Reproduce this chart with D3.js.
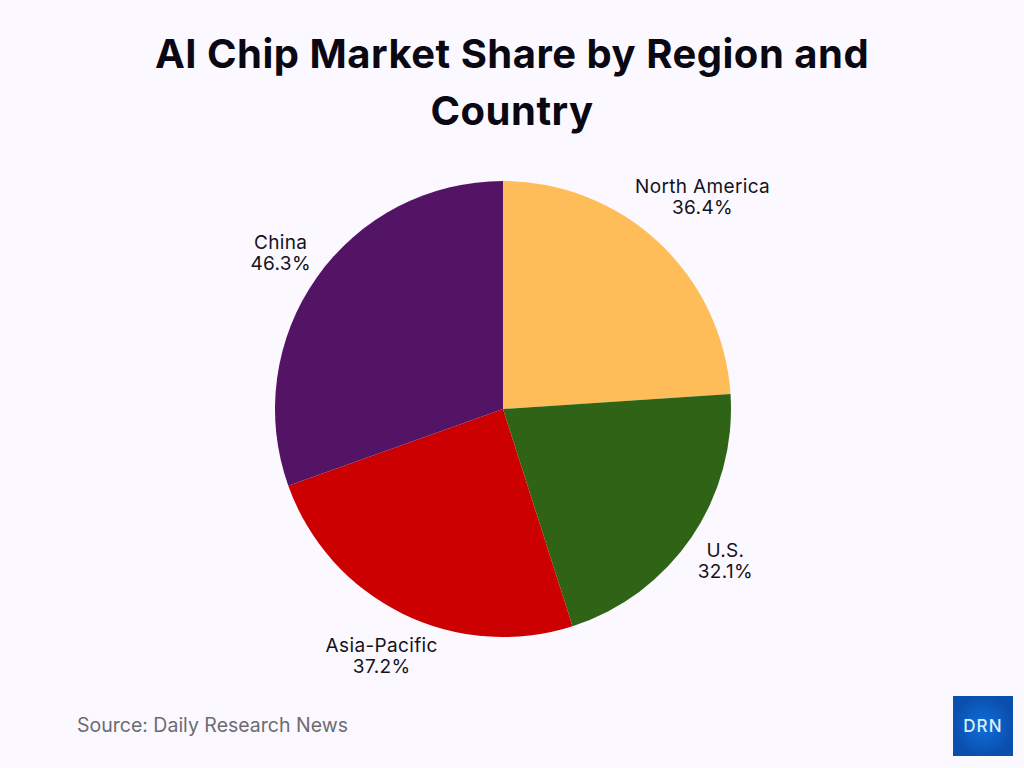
<!DOCTYPE html>
<html>
<head>
<meta charset="utf-8">
<script src="https://cdn.jsdelivr.net/npm/d3@7"></script>
<style>
  html, body { margin: 0; padding: 0; background: #fbf9ff; }
  svg { display: block; }
  text { font-family: Inter, "Noto Sans", sans-serif; }
</style>
</head>
<body>
<svg id="chart" width="1024" height="768"></svg>
<script>
const categories = ['North America', 'U.S.', 'Asia-Pacific', 'China'];
const shares = [36.4, 32.1, 37.2, 46.3];
const sliceColors = ['#ffbd59', '#2f6417', '#cc0000', '#541466'];
const titleLines = ['AI Chip Market Share by Region and', 'Country'];
const sourceNote = 'Source: Daily Research News';

const svg = d3.select('#chart');
const cx = 503, cy = 409, radius = 228;

// title
svg.selectAll('.title')
    .data(titleLines)
    .join('text')
    .attr('class', 'title')
    .attr('x', 512)
    .attr('y', (d, i) => 68 + i * 57)
    .attr('text-anchor', 'middle')
    .attr('font-size', 40)
    .attr('font-weight', 700)
    .attr('letter-spacing', 0.5)
    .attr('fill', '#0a0812')
    .text(d => d);

const rows = categories.map((c, i) => ({name: c, value: shares[i], color: sliceColors[i]}));
const pie = d3.pie().sort(null).value(d => d.value);
const arc = d3.arc().innerRadius(0).outerRadius(radius);

// label distance from the centre differs a bit per slice
const labelRadius = {'North America': 292, 'U.S.': 269, 'Asia-Pacific': 274, 'China': 272};
const labelPos = d => {
    const r = labelRadius[d.data.name];
    return d3.arc().innerRadius(r).outerRadius(r).centroid(d);
};

const g = svg.append('g').attr('transform', `translate(${cx},${cy})`);
const arcs = pie(rows);

g.selectAll('path')
    .data(arcs)
    .join('path')
    .attr('d', arc)
    .attr('fill', d => d.data.color);

const labels = g.selectAll('.label')
    .data(arcs)
    .join('text')
    .attr('class', 'label')
    .attr('text-anchor', 'middle')
    .attr('font-size', 19)
    .attr('letter-spacing', 0.35)
    .attr('fill', '#14121c')
    .attr('transform', d => `translate(${labelPos(d)})`);

labels.append('tspan')
    .attr('x', 0)
    .attr('dy', '-0.15em')
    .text(d => d.data.name);

labels.append('tspan')
    .attr('x', 0)
    .attr('dy', '1.1em')
    .text(d => d.data.value + '%');

svg.append('text')
    .attr('x', 77)
    .attr('y', 732)
    .attr('font-size', 19.5)
    .attr('fill', '#6d6b70')
    .text(sourceNote);

// logo badge
const defs = svg.append('defs');
const grad = defs.append('radialGradient').attr('id', 'badge');
grad.append('stop').attr('offset', '0%').attr('stop-color', '#0f6fdc');
grad.append('stop').attr('offset', '100%').attr('stop-color', '#0b4fae');

svg.append('rect')
    .attr('x', 953)
    .attr('y', 696)
    .attr('width', 60)
    .attr('height', 60)
    .attr('fill', 'url(#badge)');

svg.append('text')
    .attr('x', 983)
    .attr('y', 732)
    .attr('text-anchor', 'middle')
    .attr('font-size', 17)
    .attr('font-weight', 500)
    .attr('letter-spacing', 1.2)
    .attr('fill', '#d8f0fb')
    .text('DRN');
</script>
</body>
</html>
